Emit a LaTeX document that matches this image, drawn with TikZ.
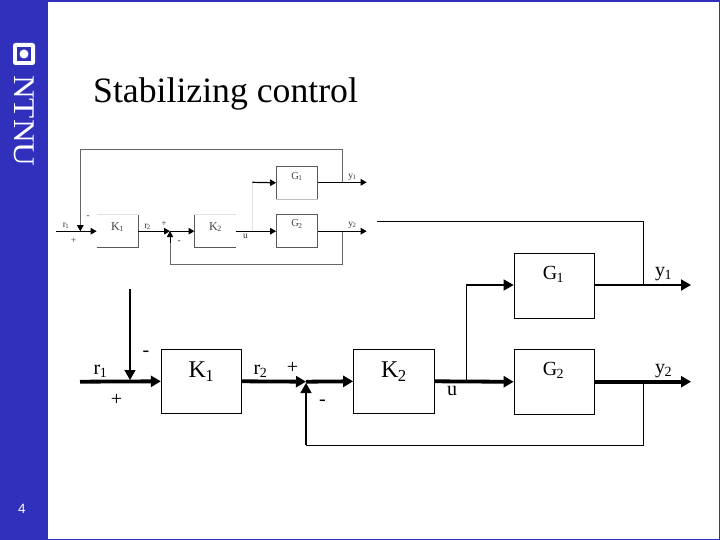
\documentclass[tikz,border=0pt]{standalone}
\usepackage{fontspec}
\setmainfont{Liberation Serif}
\newfontfamily\sansf{Liberation Sans}
\usetikzlibrary{arrows.meta}
\definecolor{ntnu}{HTML}{3030BC}
\definecolor{smallgray}{gray}{0.4}
\tikzset{
  x=1pt,y=-1pt,
  bigbox/.style={draw=black,line width=0.8pt,minimum width=80.5pt,minimum height=64.5pt,inner sep=0pt,fill=white},
  smallbox/.style={minimum width=41pt,minimum height=32.5pt,inner sep=0pt},
  thick1/.style={line width=3.8pt,-{Triangle[length=10pt,width=11pt]}},
  thin1/.style={line width=0.9pt},
  sthick/.style={line width=1.2pt,-{Triangle[length=6pt,width=6.5pt]}},
  sthin/.style={line width=0.7pt,draw=smallgray},
  sedge/.style={line width=0.7pt,draw=black!65},
  bigtext/.style={inner sep=0pt,font=\fontsize{24}{24}\selectfont},
  medtext/.style={inner sep=0pt,font=\fontsize{20}{20}\selectfont},
  smallK/.style={inner sep=0pt,font=\fontsize{12}{12}\selectfont,text=black!75},
  smallG/.style={inner sep=0pt,font=\fontsize{10.5}{11}\selectfont,text=black!75},
  smalltext/.style={inner sep=0pt,font=\fontsize{9.5}{10}\selectfont,text=black!80},
}
\newcommand{\sbs}[2]{#1\textsubscript{\kern-0.5pt #2}}
\begin{document}
\begin{tikzpicture}
\useasboundingbox (0,0) rectangle (720,540);
\fill[white] (0,0) rectangle (720,540);
\fill[ntnu] (0,0) rectangle (48,540);
\draw[ntnu,line width=1.6pt] (0,0.8) -- (720,0.8);
\draw[ntnu,line width=1pt] (719.5,0) -- (719.5,539.5) -- (0,539.5);
% logo
\node[fill=white,rounded corners=2.5pt,minimum size=22pt,inner sep=0pt] (logo) at (24,54) {};
\node[fill=ntnu,minimum size=14pt,inner sep=0pt] (logoin) at (logo) {};
\node[fill=white,circle,minimum size=9pt,inner sep=0pt] (logodot) at (logo) {};
\node[rotate=-90,xscale=1.1,text=white,inner sep=0pt,font=\fontsize{30}{30}\selectfont] (ntnutxt) at (24.5,121) {NTNU};
\node[text=white,inner sep=0pt,font=\sansf\fontsize{13.5}{14}\selectfont] (page) at (22,509) {4};
\node[anchor=west,inner sep=0pt,font=\fontsize{35.7}{36}\selectfont] (title) at (93,94) {Stabilizing control};

% small diagram
\node[smallbox] (sK1) at (117.3,231.2) {};
\node[smallbox] (sK2) at (215.2,231.2) {};
\node[smallbox] (sG1) at (296.8,182.8) {};
\node[smallbox] (sG2) at (296.8,231.2) {};
\draw[sedge] (sK1.south west) -- (sK1.south east) -- (sK1.north east);
\draw[sedge,draw=black!12] (sK1.north west) -- (sK1.north east);
\draw[sedge,draw=black!12] (sK2.north west) -- (sK2.north east);
\draw[sedge] (sK2.north west) -- (sK2.south west) -- (sK2.south east);
\draw[sedge] (sG1.south west) -- (sG1.north west) -- (sG1.north east) -- (sG1.south east);
\draw[sedge,draw=black!25] (sG1.south west) -- (sG1.south east);
\draw[sedge] (sG2.south west) -- (sG2.north west) -- (sG2.north east) -- (sG2.south east) -- cycle;
\coordinate (sr1) at (56,231.2);
\coordinate (sj1) at (80.3,231.2);
\coordinate (sj2) at (170,231.2);
\coordinate (sy1) at (366.7,182.3);
\coordinate (sy2) at (366.7,231.2);
\coordinate (stap1) at (342.7,182.3);
\coordinate (stap2) at (342.7,231.2);
\coordinate (stop1) at (80.3,149.3);
\coordinate (stop2) at (342.7,149.3);
\coordinate (sbot1) at (170,264);
\coordinate (sbot2) at (342.7,264);
\coordinate (suin) at (252.3,182.3);
\draw[sthin] (sj1) ++(0,-2) -- (stop1) -- (stop2) -- (stap1);
\draw[sthin] (stap2) -- (sbot2) -- (sbot1) -- (sj2);
\draw[sthin,draw=black!12] (suin) -- (252.3,231.2);
\draw[sthick] (sr1) -- (sK1.west);
\draw[sthick] (sK1.east) -- (sj2);
\draw[sthick] (sj2) -- (sK2.west);
\draw[sthick] (sK2.east) -- (sG2.west);
\draw[sthick] (suin) -- (sG1.west);
\draw[sthick] (sG1.east|-suin) -- (sy1);
\draw[sthick] (sG2.east) -- (sy2);
\draw[line width=0.7pt,draw=smallgray,-{Triangle[length=6pt,width=6.5pt,color=black]}] (80.3,221) -- (sj1);
\draw[line width=0.7pt,draw=black,-{Triangle[length=6pt,width=6.5pt]}] (170,243) -- (sj2);
\node[smallK] (sK1t) at (117.5,227) {\sbs{K}{1}};
\node[smallK] (sK2t) at (215.5,227) {\sbs{K}{2}};
\node[smallG] (sG1t) at (297,176.5) {\sbs{G}{1}};
\node[smallG] (sG2t) at (297,224) {\sbs{G}{2}};
\node[smalltext] (sr1t) at (66,226) {\sbs{r}{1}};
\node[smalltext] (sr2t) at (147.5,226.5) {\sbs{r}{2}};
\node[smalltext] (sy1t) at (352.5,177) {\sbs{y}{1}};
\node[smalltext] (sy2t) at (352.5,225.5) {\sbs{y}{2}};
\node[smalltext] (sut) at (245.5,236) {u};
\node[smalltext] (spa) at (73.5,240.7) {+};
\node[smalltext] (sma) at (88.3,217.3) {-};
\node[smalltext] (spb) at (164,224) {+};
\node[smalltext] (smb) at (179.3,242.3) {-};

% large diagram
\node[bigbox] (K1) at (201.5,381.3) {};
\node[bigbox] (K2) at (393.8,381.3) {};
\node[bigbox] (G1) at (554.3,285.8) {};
\node[bigbox] (G2) at (554.3,381.8) {};
\coordinate (r1) at (80,381.7);
\coordinate (j1) at (130,381.7);
\coordinate (j1top) at (130,289);
\coordinate (j2) at (306,381.7);
\coordinate (tap) at (466.5,381.7);
\coordinate (y1end) at (691,285);
\coordinate (y2end) at (691,381.7);
\coordinate (t1) at (377,221.3);
\coordinate (t2) at (643.3,221.3);
\coordinate (t3) at (643.3,285);
\coordinate (b1) at (643.3,381.7);
\coordinate (b2) at (643.3,445);
\coordinate (b3) at (306,445);
\coordinate (u1) at (466.5,285);
\draw[thin1] (t1) -- (t2) -- (t3);
\draw[thin1] (b1) -- (b2) -- (b3);
\draw[thick1] (r1) -- (K1.west);
\draw[thick1] (K1.east) -- (j2);
\draw[thick1] (j2) -- (K2.west);
\draw[thick1] (K2.east) -- (G2.west);
\draw[line width=1.3pt,-{Triangle[length=10pt,width=11pt]}] (j1top) -- (130,380);
\draw[line width=1.3pt,-{Triangle[length=10pt,width=11pt]}] (b3) -- (306,383);
\draw[line width=1.3pt,-{Triangle[length=10pt,width=11pt]}] (tap) -- (u1) -- (G1.west|-u1);
\draw[line width=2pt,-{Triangle[length=10pt,width=11pt]}] (G1.east|-u1) -- (y1end);
\draw[thick1] (G2.east|-y2end) -- (y2end);
\node[bigtext] (K1t) at (201.5,372) {\sbs{K}{1}};
\node[bigtext] (K2t) at (394,372) {\sbs{K}{2}};
\node[medtext] (G1t) at (553.5,274.5) {\sbs{G}{1}};
\node[medtext] (G2t) at (553.5,370.5) {\sbs{G}{2}};
\node[medtext] (r1t) at (100.5,371) {\sbs{r}{1}};
\node[medtext] (r2t) at (260.5,371) {\sbs{r}{2}};
\node[medtext] (y1t) at (663.5,274) {\sbs{y}{1}};
\node[medtext] (y2t) at (663.5,371) {\sbs{y}{2}};
\node[medtext] (ut) at (452,391) {u};
\node[medtext] (pa) at (116.5,400) {+};
\node[medtext] (ma) at (146,353.5) {-};
\node[medtext] (pb) at (292.5,367.5) {+};
\node[medtext] (mb) at (322.5,403) {-};
\end{tikzpicture}
\end{document}
